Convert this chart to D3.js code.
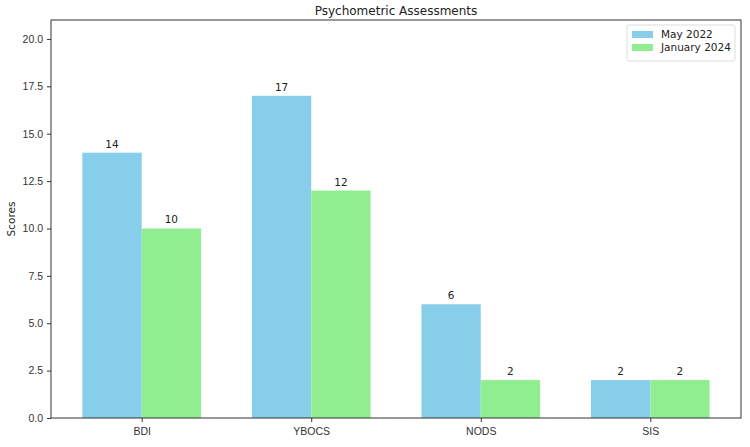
<!DOCTYPE html>
<meta charset='utf-8'>
<title>Psychometric Assessments</title>
<style>
  body { margin: 0; background: #fff; }
  svg { display: block; font-family: 'DejaVu Sans', sans-serif; }
  .axis path, .axis line { stroke: #333; }
  .axis text { fill: #333; font-size: 10.5px; }
</style>
<body>
<script src='https://cdn.jsdelivr.net/npm/d3@7/dist/d3.min.js'></script>
<script>

  var categories = ['BDI', 'YBOCS', 'NODS', 'SIS']
  var may2022 = [14, 17, 6, 2]
  var jan2024 = [10, 12, 2, 2]
  var seriesNames = ['May 2022', 'January 2024']
  var yTicks = [0, 2.5, 5, 7.5, 10, 12.5, 15, 17.5, 20]

  var width = 750, height = 447
  var margin = { top: 20, right: 9, bottom: 29, left: 51 }
  var colors = ['#87ceeb', '#90ee90']
  var barW = 0.35

  var svg = d3.select('body').append('svg')
    .attr('width', width)
    .attr('height', height)

  var plotW = width - margin.left - margin.right
  var plotH = height - margin.top - margin.bottom

  var g = svg.append('g')
    .attr('transform', 'translate(' + margin.left + ',' + margin.top + ')')

  // category index scale, with matplotlib-like 5% padding
  var x = d3.scaleLinear()
    .domain([-barW - 0.185, categories.length - 1 + barW + 0.185])
    .range([0, plotW])

  var y = d3.scaleLinear()
    .domain([0, 21])
    .range([plotH, 0])

  var series = [may2022, jan2024]

  series.forEach(function(vals, s) {
    var off = s === 0 ? -barW : 0
    g.selectAll('rect.s' + s)
      .data(vals)
      .enter().append('rect')
      .attr('class', 's' + s)
      .attr('x', function(d, i) { return x(i + off) })
      .attr('width', x(barW) - x(0))
      .attr('y', function(d) { return y(d) })
      .attr('height', function(d) { return plotH - y(d) })
      .attr('fill', colors[s])

    g.selectAll('text.l' + s)
      .data(vals)
      .enter().append('text')
      .attr('class', 'l' + s)
      .attr('x', function(d, i) { return x(i + off + barW / 2) })
      .attr('y', function(d) { return y(d) - 5 })
      .attr('text-anchor', 'middle')
      .attr('font-size', '10.5px')
      .attr('fill', '#222')
      .text(function(d) { return d })
  })

  // axes
  g.append('g')
    .attr('class', 'axis')
    .attr('transform', 'translate(0,' + plotH + ')')
    .call(d3.axisBottom(x)
      .tickValues(d3.range(categories.length))
      .tickFormat(function(i) { return categories[i] })
      .tickSize(4).tickPadding(6))

  g.append('g')
    .attr('class', 'axis')
    .call(d3.axisLeft(y)
      .tickValues(yTicks)
      .tickFormat(d3.format('.1f'))
      .tickSize(4).tickPadding(4))

  g.selectAll('.axis .domain').remove()

  // frame
  g.append('rect')
    .attr('width', plotW)
    .attr('height', plotH)
    .attr('fill', 'none')
    .attr('stroke', '#333')
    .attr('stroke-width', 1)

  // title + y label
  svg.append('text')
    .attr('x', margin.left + plotW / 2)
    .attr('y', 15)
    .attr('text-anchor', 'middle')
    .attr('font-size', '12px')
    .attr('fill', '#222')
    .text('Psychometric Assessments')

  svg.append('text')
    .attr('transform', 'translate(15,' + (margin.top + plotH / 2) + ') rotate(-90)')
    .attr('text-anchor', 'middle')
    .attr('font-size', '10.5px')
    .attr('fill', '#222')
    .text('Scores')

  // legend
  var lg = svg.append('g')
    .attr('transform', 'translate(627,25)')

  lg.append('rect')
    .attr('width', 108)
    .attr('height', 36)
    .attr('rx', 2)
    .attr('fill', '#fff')
    .attr('stroke', '#ddd')

  seriesNames.forEach(function(name, s) {
    lg.append('rect')
      .attr('x', 5)
      .attr('y', 6 + s * 13)
      .attr('width', 21)
      .attr('height', 7)
      .attr('fill', colors[s])
    lg.append('text')
      .attr('x', 34)
      .attr('y', 13 + s * 13)
      .attr('font-size', '10.5px')
      .attr('fill', '#222')
      .text(name)
  })

</script>
</body>
